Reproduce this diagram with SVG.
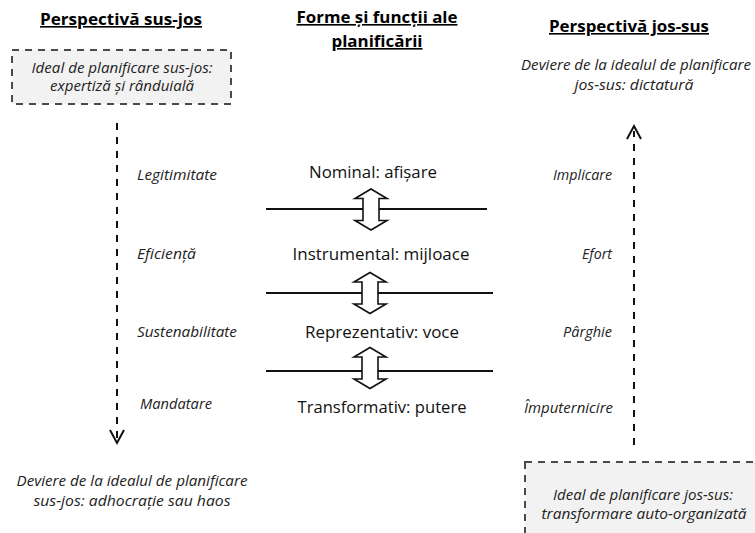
<svg xmlns="http://www.w3.org/2000/svg" width="755" height="533" viewBox="0 0 755 533">
  <style>
    .hdr { font-family: "Open Sans", "Noto Sans", sans-serif; font-weight: bold; font-size: 16px; fill: #000; text-decoration: underline; }
    .it { font-family: "Open Sans", "Noto Sans", sans-serif; font-style: italic; font-size: 14px; fill: #222; }
    .form { font-family: "Open Sans", "Noto Sans", sans-serif; font-size: 15.5px; fill: #111; }
    .ideal { fill: #f2f2f2; stroke: #4a4a4a; stroke-width: 2; stroke-dasharray: 7 6; }
    .flow { fill: none; stroke: #111; stroke-width: 2; stroke-dasharray: 7 7; }
    .chev { fill: none; stroke: #111; stroke-width: 2; }
    .level { stroke: #111; stroke-width: 2; }
    .dbl { fill: #fff; stroke: #111; stroke-width: 1.6; stroke-linejoin: miter; }
  </style>
  <defs>
    <!-- hollow two-way arrow, centred on (0,0) -->
    <path id="twoway" d="M0,-20.5 L16,-11 L8,-11 L8,11 L16,11 L0,20.5 L-16,11 L-8,11 L-8,-11 L-16,-11 Z"/>
  </defs>
  <rect width="755" height="533" fill="#fff"/>

  <!-- column headers -->
  <g id="hdr-top-down">
    <text class="hdr" x="121" y="25" text-anchor="middle" textLength="162" lengthAdjust="spacingAndGlyphs">Perspectivă sus-jos</text>
  </g>
  <g id="hdr-forms">
    <text class="hdr" x="377" y="23" text-anchor="middle" textLength="161" lengthAdjust="spacingAndGlyphs">Forme și funcții ale</text>
    <text class="hdr" x="377" y="47" text-anchor="middle" textLength="91" lengthAdjust="spacingAndGlyphs">planificării</text>
  </g>
  <g id="hdr-bottom-up">
    <text class="hdr" x="629" y="32" text-anchor="middle" textLength="160" lengthAdjust="spacingAndGlyphs">Perspectivă jos-sus</text>
  </g>

  <!-- top-down ideal -->
  <g id="ideal-top-down">
    <rect class="ideal" x="12" y="50" width="219" height="54"/>
    <text class="it" x="122" y="73" text-anchor="middle" textLength="181" lengthAdjust="spacingAndGlyphs">Ideal de planificare sus-jos:</text>
    <text class="it" x="122" y="91" text-anchor="middle" textLength="144" lengthAdjust="spacingAndGlyphs">expertiză și rânduială</text>
  </g>

  <!-- top-down deviation -->
  <g id="deviation-top-down">
    <text class="it" x="132" y="486" text-anchor="middle" textLength="231" lengthAdjust="spacingAndGlyphs">Deviere de la idealul de planificare</text>
    <text class="it" x="132" y="506" text-anchor="middle" textLength="197" lengthAdjust="spacingAndGlyphs">sus-jos: adhocrație sau haos</text>
  </g>

  <!-- bottom-up deviation -->
  <g id="deviation-bottom-up">
    <text class="it" x="636" y="70" text-anchor="middle" textLength="230" lengthAdjust="spacingAndGlyphs">Deviere de la idealul de planificare</text>
    <text class="it" x="634" y="90" text-anchor="middle" textLength="119" lengthAdjust="spacingAndGlyphs">jos-sus: dictatură</text>
  </g>

  <!-- bottom-up ideal -->
  <g id="ideal-bottom-up">
    <rect class="ideal" x="525" y="462" width="245" height="90"/>
    <text class="it" x="643" y="500" text-anchor="middle" textLength="180" lengthAdjust="spacingAndGlyphs">Ideal de planificare jos-sus:</text>
    <text class="it" x="644" y="519" text-anchor="middle" textLength="205" lengthAdjust="spacingAndGlyphs">transformare auto-organizată</text>
  </g>

  <!-- top-down qualities -->
  <g id="qualities-top-down">
    <text class="it" x="137" y="180" textLength="80" lengthAdjust="spacingAndGlyphs">Legitimitate</text>
    <text class="it" x="137" y="259" textLength="59" lengthAdjust="spacingAndGlyphs">Eficiență</text>
    <text class="it" x="137" y="337" textLength="100" lengthAdjust="spacingAndGlyphs">Sustenabilitate</text>
    <text class="it" x="140" y="409" textLength="72" lengthAdjust="spacingAndGlyphs">Mandatare</text>
  </g>

  <!-- bottom-up qualities -->
  <g id="qualities-bottom-up">
    <text class="it" x="612" y="180" text-anchor="end" textLength="59" lengthAdjust="spacingAndGlyphs">Implicare</text>
    <text class="it" x="612" y="259" text-anchor="end" textLength="30" lengthAdjust="spacingAndGlyphs">Efort</text>
    <text class="it" x="612" y="337" text-anchor="end" textLength="49" lengthAdjust="spacingAndGlyphs">Pârghie</text>
    <text class="it" x="613" y="413" text-anchor="end" textLength="89" lengthAdjust="spacingAndGlyphs">Împuternicire</text>
  </g>

  <!-- planning forms -->
  <g id="form-nominal">
    <text class="form" x="373" y="178" text-anchor="middle" textLength="128" lengthAdjust="spacingAndGlyphs">Nominal: afișare</text>
  </g>
  <g id="form-instrumental">
    <text class="form" x="381" y="260" text-anchor="middle" textLength="177" lengthAdjust="spacingAndGlyphs">Instrumental: mijloace</text>
  </g>
  <g id="form-representative">
    <text class="form" x="382" y="338" text-anchor="middle" textLength="154" lengthAdjust="spacingAndGlyphs">Reprezentativ: voce</text>
  </g>
  <g id="form-transformative">
    <text class="form" x="382" y="413" text-anchor="middle" textLength="169" lengthAdjust="spacingAndGlyphs">Transformativ: putere</text>
  </g>

  <g id="connectors">
    <!-- level dividers -->
    <line class="level" x1="266" y1="209" x2="487" y2="209"/>
    <line class="level" x1="266" y1="293" x2="493" y2="293"/>
    <line class="level" x1="266" y1="371" x2="493" y2="371"/>
    <!-- two-way transitions between levels -->
    <use href="#twoway" class="dbl" x="371" y="209.5"/>
    <use href="#twoway" class="dbl" x="370" y="293"/>
    <use href="#twoway" class="dbl" x="370" y="368"/>
    <!-- top-down flow -->
    <line class="flow" x1="117" y1="123" x2="117" y2="438"/>
    <polyline class="chev" points="110,430 117,443 124,430"/>
    <!-- bottom-up flow -->
    <line class="flow" x1="634" y1="445" x2="634" y2="131"/>
    <polyline class="chev" points="627,139 634,126 641,139"/>
  </g>
</svg>
